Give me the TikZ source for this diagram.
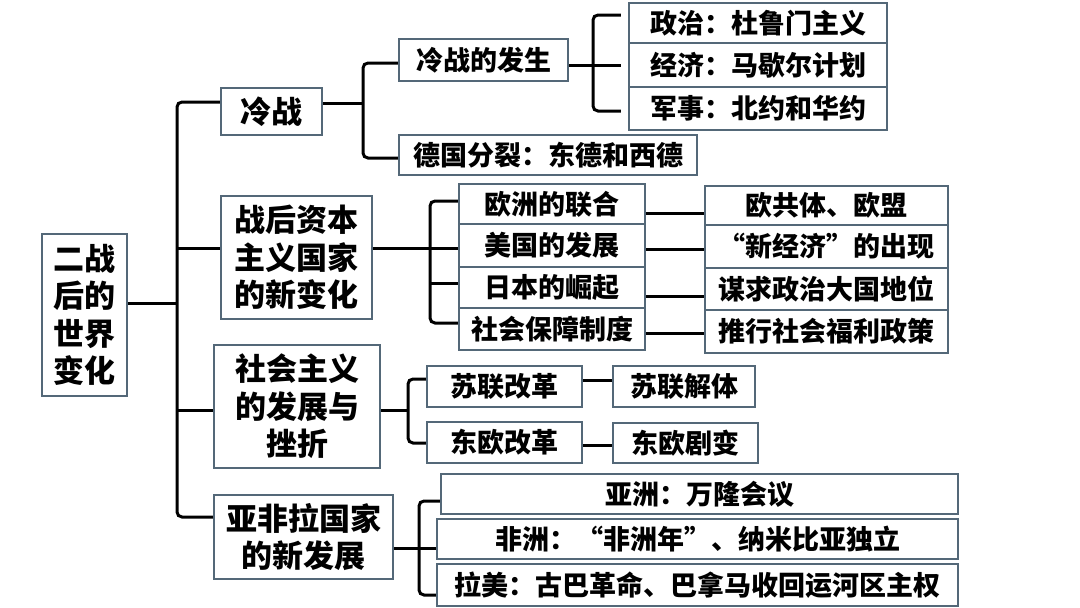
\documentclass[tikz,border=0pt]{standalone}
\usepackage{fontspec}
\newfontfamily\cjk{Noto Sans CJK SC}
\usepackage{tikz}
\usetikzlibrary{positioning, calc}

\definecolor{boxline}{RGB}{84,104,120}

\begin{document}
\begin{tikzpicture}[x=1pt, y=-1pt,
box/.style={rectangle, draw=boxline, line width=2.5pt, fill=white, inner sep=0pt, align=center, font=\cjk\bfseries\fontsize{27}{33}\selectfont},
topic/.style={box, font=\cjk\bfseries\fontsize{31}{37.5}\selectfont},
link/.style={black, line width=3pt, rounded corners=5pt}
]
\useasboundingbox (0,0) rectangle (1080,608);

% root and main topics
\node[topic, minimum width=85pt, minimum height=162pt] (root) at (84.5,315) {二战\\后的\\世界\\变化};
\node[topic, minimum width=101pt, minimum height=47pt] (cold) at (271.5,111.5) {冷战};
\node[topic, minimum width=151pt, minimum height=123pt] (capit) at (296.5,257.5) {战后资本\\主义国家\\的新变化};
\node[topic, minimum width=166pt, minimum height=123pt] (social) at (297,406.5) {社会主义\\的发展与\\挫折};
\node[topic, minimum width=179pt, minimum height=84pt] (develop) at (303.5,537) {亚非拉国家\\的新发展};

% cold war
\node[box, minimum width=169pt, minimum height=42pt] (coldstart) at (483.5,60) {冷战的发生};
\node[box, minimum width=298pt, minimum height=40pt] (split) at (548,155) {德国分裂：东德和西德};
\node[box, minimum width=258pt, minimum height=40pt] (politics) at (758,23) {政治：杜鲁门主义};
\node[box, minimum width=258pt, minimum height=44pt] (economy) at (758,65) {经济：马歇尔计划};
\node[box, minimum width=258pt, minimum height=43pt] (military) at (758,108.5) {军事：北约和华约};

% capitalist countries
\node[box, minimum width=186pt, minimum height=40pt] (europe) at (552,204) {欧洲的联合};
\node[box, minimum width=186pt, minimum height=43pt] (usa) at (552,245.5) {美国的发展};
\node[box, minimum width=186pt, minimum height=41pt] (japan) at (552,287.5) {日本的崛起};
\node[box, minimum width=186pt, minimum height=42pt] (welfare) at (552,329) {社会保障制度};
\node[box, minimum width=243pt, minimum height=39pt] (eu) at (826.5,205.5) {欧共体、欧盟};
\node[box, minimum width=243pt, minimum height=43pt] (neweco) at (826.5,246.5) {“新经济”的出现};
\node[box, minimum width=243pt, minimum height=42pt] (power) at (826.5,289) {谋求政治大国地位};
\node[box, minimum width=243pt, minimum height=43pt] (policy) at (826.5,331.5) {推行社会福利政策};

% socialism
\node[box, minimum width=155pt, minimum height=41pt] (sureform) at (504.5,386.5) {苏联改革};
\node[box, minimum width=155pt, minimum height=41pt] (eureform) at (504.5,442.5) {东欧改革};
\node[box, minimum width=142pt, minimum height=41pt] (sucollapse) at (684,386.5) {苏联解体};
\node[box, minimum width=145pt, minimum height=40pt] (euchange) at (685.5,443) {东欧剧变};

% asia, africa, latin america
\node[box, minimum width=517pt, minimum height=40pt] (asia) at (699.5,494) {亚洲：万隆会议};
\node[box, minimum width=521pt, minimum height=40pt] (africa) at (697.5,539) {非洲：“非洲年”、纳米比亚独立};
\node[box, minimum width=521pt, minimum height=42pt] (latin) at (697.5,585) {拉美：古巴革命、巴拿马收回运河区主权};

% bracket points
\coordinate (trunk) at (177,303);
\coordinate (b1) at (363,103);
\coordinate (b2) at (593,65);
\coordinate (b3) at (430,248);
\coordinate (b4) at (408,410);
\coordinate (b5) at (419,548);

% trunk
\draw[link] (root.east |- trunk) -- (trunk);
\draw[link] (cold.west |- 0,102) -| (trunk) |- (develop.west |- 0,517);
\draw[link] (trunk |- 0,248) -- (capit.west |- 0,248);
\draw[link] (trunk |- 0,410) -- (social.west |- 0,410);

% cold war branches
\draw[link] (cold.east |- b1) -- (b1);
\draw[link] (coldstart.west |- 0,63) -| (b1) |- (split.west |- 0,158);
\draw[link, shorten >=7pt] (coldstart.east |- b2) -- (economy.west |- b2);
\draw[link, shorten <=7pt, shorten >=7pt] (politics.west |- 0,15) -| (b2) |- (military.west |- 0,111);

% capitalist branches
\draw[link] (capit.east |- b3) -- (usa.west |- b3);
\draw[link] (europe.west |- 0,201) -| (b3) |- (welfare.west |- 0,323);
\draw[link] (b3 |- 0,283) -- (japan.west |- 0,283);
\draw[link] (europe.east |- 0,213) -- (eu.west |- 0,213);
\draw[link] (usa.east |- 0,249) -- (neweco.west |- 0,249);
\draw[link] (japan.east |- 0,296) -- (power.west |- 0,296);
\draw[link] (welfare.east |- 0,333) -- (policy.west |- 0,333);

% socialism branches
\draw[link] (social.east |- b4) -- (b4);
\draw[link] (sureform.west |- 0,379) -| (b4) |- (eureform.west |- 0,443);
\draw[link] (sureform.east |- 0,380) -- (sucollapse.west |- 0,380);
\draw[link] (eureform.east |- 0,445) -- (euchange.west |- 0,445);

% asia, africa, latin america branches
\draw[link] (develop.east |- b5) -- (africa.west |- b5);
\draw[link] (asia.west |- 0,501) -| (b5) |- (latin.west |- 0,595);
\end{tikzpicture}
\end{document}
